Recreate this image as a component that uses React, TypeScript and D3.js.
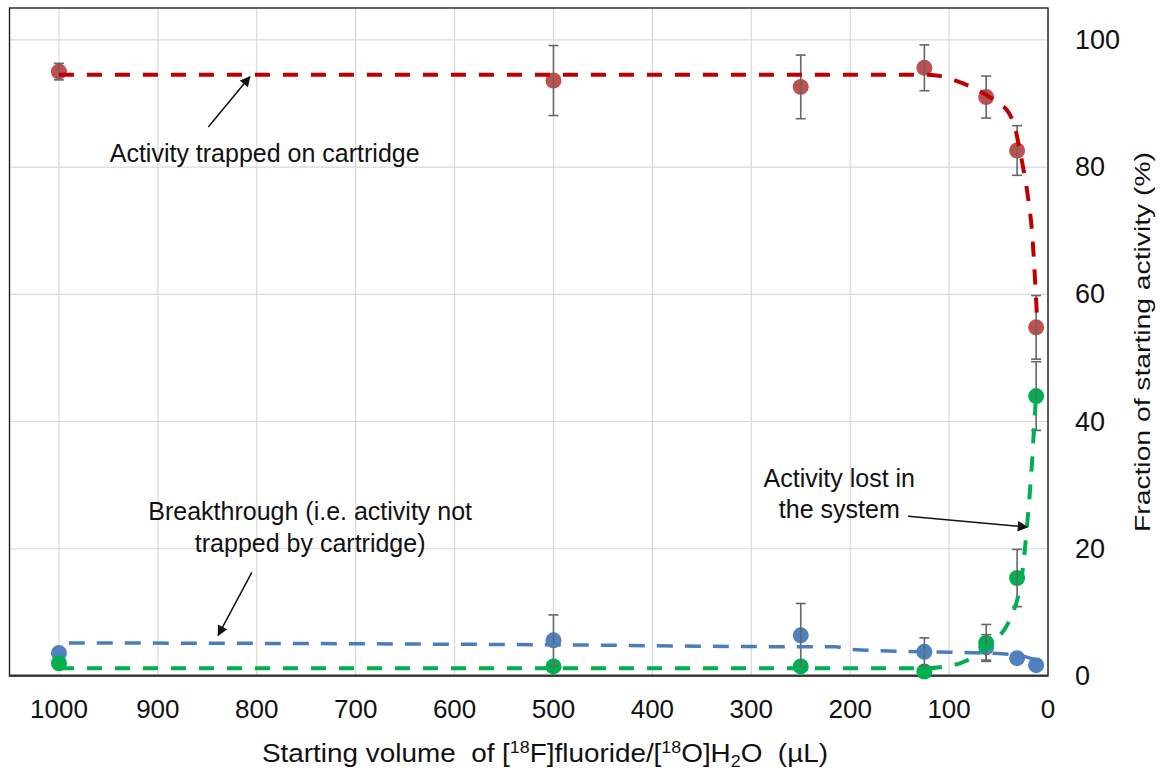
import React from 'react';
import * as d3 from 'd3';

const volumes = [1000, 500, 250, 125, 62.5, 31.25, 12];

const trapped = [95, 93.6, 92.6, 95.6, 91, 82.6, 54.8];
const trappedErr = [1.3, 5.5, 5, 3.6, 3.3, 3.9, 5];

const breakthrough = [3.6, 5.6, 6.4, 3.8, 4.5, 2.8, 1.7];
const breakthroughErr = [0, 4, 5, 2.2, 2, 0, 0];

const lost = [2, 1.5, 1.5, 0.7, 5.2, 15.4, 44];
const lostErr = [0, 0, 0, 0, 2.9, 4.5, 5.4];

// fitted (dashed) curves
const trappedFitX = [1000, 500, 250, 125, 113, 90, 70, 50, 40, 33, 28.5, 25, 20, 16, 13, 11];
const trappedFitY = [94.5, 94.5, 94.5, 94.5, 94.4, 93.4, 92, 90, 88.6, 86, 82.6, 79.8, 75, 69.5, 62, 56];

const breakFitX = [990, 750, 500, 250, 215, 200, 125, 62.5, 31, 12];
const breakFitY = [5.2, 5.1, 4.9, 4.6, 4.6, 4.2, 3.8, 3.6, 3.3, 2.5];

const lostFitX = [1000, 500, 250, 125, 100, 89, 62, 35.4, 25.3, 21.3, 16.2, 13.2, 12];
const lostFitY = [1.2, 1.2, 1.2, 1.2, 1.6, 2, 4.5, 10, 17.1, 23.4, 33.5, 41.3, 44];

const xTicks = [1000, 900, 800, 700, 600, 500, 400, 300, 200, 100, 0];
const yTicks = [0, 20, 40, 60, 80, 100];

const W = 1171;
const H = 773;
const FONT = '"Liberation Sans", Arial, sans-serif';

const x = d3.scaleLinear().domain([1050, 0]).range([9.5, 1048]);
const y = d3.scaleLinear().domain([0, 105]).range([676, 8]);

const series = [
  { vals: trapped, errs: trappedErr, fx: trappedFitX, fy: trappedFitY, dot: '#C0504D', line: '#C00000', w: 4, dash: '15 13' },
  { vals: breakthrough, errs: breakthroughErr, fx: breakFitX, fy: breakFitY, dot: '#4F81BD', line: '#4A7EBB', w: 3.5, dash: '16 12' },
  { vals: lost, errs: lostErr, fx: lostFitX, fy: lostFitY, dot: '#00B050', line: '#00B050', w: 4, dash: '15 13' },
];

// annotations in data units: [x1, y1, x2, y2]
const arrows = [
  [849, 86.3, 807, 94.2],
  [805, 16.3, 839, 6.4],
  [141.5, 25.1, 21, 23.4],
];
const labels = [
  { x: 792, y: 80.8, text: 'Activity trapped on cartridge' },
  { x: 746, y: 24.5, text: 'Breakthrough (i.e. activity not' },
  { x: 746, y: 19.5, text: 'trapped by cartridge)' },
  { x: 211, y: 29.7, text: 'Activity lost in' },
  { x: 211, y: 24.8, text: 'the system' },
];

export default function App() {
  const line = d3.line<number>().curve(d3.curveMonotoneX);

  return (
    <svg width={W} height={H} style={{ position: 'absolute', left: 0, top: 0, background: '#fff' }}>
      <defs>
        <marker id="arr" viewBox="0 0 10 10" refX="9" refY="5" markerWidth="8" markerHeight="7" orient="auto" markerUnits="strokeWidth">
          <path d="M0,0 L10,5 L0,10 z" fill="#111" />
        </marker>
      </defs>

      {/* grid */}
      {xTicks.map((t) => (
        <line key={'gx' + t} x1={x(t)} x2={x(t)} y1={y(105)} y2={y(0)} stroke="#d9d9d9" strokeWidth={1.2} />
      ))}
      {yTicks.map((t) => (
        <line key={'gy' + t} x1={x(1050)} x2={x(0)} y1={y(t)} y2={y(t)} stroke="#d9d9d9" strokeWidth={1.2} />
      ))}
      <rect x={x(1050)} y={y(105)} width={x(0) - x(1050)} height={y(0) - y(105)} fill="none" stroke="#222" strokeWidth={1.4} />
      <line x1={x(1050)} x2={x(0)} y1={y(0) - 0.5} y2={y(0) - 0.5} stroke="#333" strokeWidth={2.2} />

      {/* markers */}
      {series.map((s, si) =>
        s.vals.map((v, i) => <circle key={`p${si}-${i}`} cx={x(volumes[i])} cy={y(v)} r={8} fill={s.dot} />)
      )}

      {/* error bars */}
      {series.map((s, si) =>
        s.vals.map((v, i) => {
          const e = s.errs[i];
          if (!e) return null;
          const cx = x(volumes[i]);
          return (
            <g key={`e${si}-${i}`} stroke="#666" strokeWidth={1.6}>
              <line x1={cx} x2={cx} y1={y(v + e)} y2={y(v - e)} />
              <line x1={cx - 5} x2={cx + 5} y1={y(v + e)} y2={y(v + e)} />
              <line x1={cx - 5} x2={cx + 5} y1={y(v - e)} y2={y(v - e)} />
            </g>
          );
        })
      )}

      {/* fitted dashed curves */}
      {series.map((s, si) => (
        <path
          key={'f' + si}
          d={line(s.fx.map((v, i) => [x(v), y(s.fy[i])]) as any) || ''}
          fill="none"
          stroke={s.line}
          strokeWidth={s.w}
          strokeDasharray={s.dash}
        />
      ))}

      {/* annotations */}
      {arrows.map((a, i) => (
        <line key={'a' + i} x1={x(a[0])} y1={y(a[1])} x2={x(a[2])} y2={y(a[3])} stroke="#111" strokeWidth={1.5} markerEnd="url(#arr)" />
      ))}
      {labels.map((l, i) => (
        <text key={'l' + i} x={x(l.x)} y={y(l.y)} textAnchor="middle" fontFamily={FONT} fontSize={25} fill="#111">
          {l.text}
        </text>
      ))}

      {/* x axis ticks */}
      {xTicks.map((t) => (
        <text key={'tx' + t} x={x(t)} y={718} textAnchor="middle" fontFamily={FONT} fontSize={26} fill="#111">
          {t}
        </text>
      ))}
      {/* right y axis ticks */}
      {yTicks.map((t) => (
        <text key={'ty' + t} x={1075} y={y(t) + 9} textAnchor="start" fontFamily={FONT} fontSize={27} fill="#111">
          {t}
        </text>
      ))}

      {/* axis titles */}
      <text x={262} y={762} fontFamily={FONT} fontSize={25} fill="#111" textLength={566} lengthAdjust="spacingAndGlyphs">
        Starting volume{'\u00a0'} of [<tspan fontSize={16} dy={-9}>18</tspan>
        <tspan dy={9}>F]fluoride/[</tspan>
        <tspan fontSize={16} dy={-9}>18</tspan>
        <tspan dy={9}>O]H</tspan>
        <tspan fontSize={16} dy={5}>2</tspan>
        <tspan dy={-5}>O{'\u00a0'} (µL)</tspan>
      </text>
      <text
        transform={`translate(1150, 342) rotate(-90)`}
        textAnchor="middle"
        fontFamily={FONT}
        fontSize={22}
        fill="#111"
        textLength={380}
        lengthAdjust="spacingAndGlyphs"
      >
        Fraction of starting activity (%)
      </text>
    </svg>
  );
}
